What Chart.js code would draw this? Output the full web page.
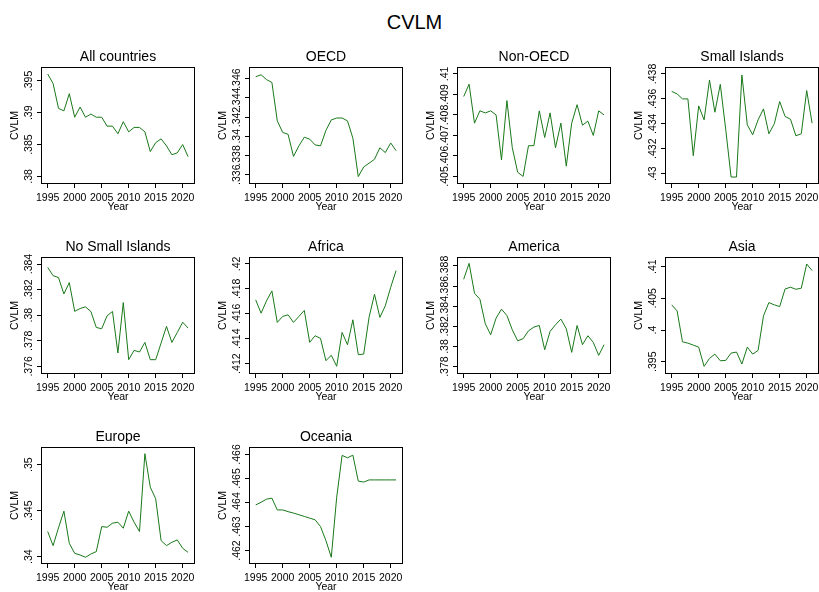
<!DOCTYPE html>
<html>
<head>
<meta charset="utf-8">
<title>CVLM</title>
<script src="https://cdn.jsdelivr.net/npm/chart.js@4.4.1/dist/chart.umd.min.js"></script>
<style>
  html, body { margin: 0; padding: 0; background: #fff; }
  body { width: 819px; height: 592px; position: relative; overflow: hidden; font-family: "Liberation Sans", Arial, sans-serif; }
  #main { position: absolute; left: 0; top: 10px; width: 829px; line-height: 24px; text-align: center; font-size: 20px; color: #000; }
  .panel { position: absolute; width: 208px; height: 192px; }
</style>
</head>
<body>
<div id="main">CVLM</div>
<div id="grid"></div>
<script>
var years = [1995, 1996, 1997, 1998, 1999, 2000, 2001, 2002, 2003, 2004, 2005, 2006, 2007, 2008,
             2009, 2010, 2011, 2012, 2013, 2014, 2015, 2016, 2017, 2018, 2019, 2020, 2021];
var yearTicks = [1995, 2000, 2005, 2010, 2015, 2020];

var allCountries = [.3961, .3946, .3907, .3903, .3930, .3893, .3909, .3893, .3898, .3893, .3893, .3879, .3879, .3867,
                    .3886, .3870, .3877, .3877, .3870, .3839, .3853, .3859, .3848, .3834, .3837, .3850, .3831];
var oecd = [.3462, .3464, .3459, .3456, .3416, .3404, .3402, .3379, .3390, .3399, .3397, .3391, .3390, .3406,
            .3417, .3419, .3419, .3416, .3398, .3358, .3368, .3372, .3376, .3388, .3383, .3393, .3385];
var nonOecd = [.4089, .4095, .4076, .4082, .4081, .4082, .4080, .4058, .4087, .4064, .4052, .4050, .4065, .4065,
               .4082, .4069, .4081, .4064, .4076, .4055, .4076, .4085, .4075, .4077, .4070, .4082, .4080];
var smallIslands = [.4366, .4364, .4360, .4360, .43144, .43544, .43432, .43752, .43493, .43717, .43357, .42973, .42973, .43792,
                    .43392, .43312, .43432, .4352, .4332, .4340, .43579, .43459, .43437, .43304, .4332, .43667, .43405];
var noSmallIslands = [.38374, .38309, .38294, .38166, .38255, .3803, .38052, .38065, .38029, .37904, .37894, .37995, .38029, .37704,
                      .38099, .37652, .37725, .37712, .37787, .37652, .37652, .37782, .37912, .37787, .37865, .37945, .37899];
var africa = [.41712, .41605, .41704, .41784, .41531, .41579, .41592, .41531, .41579, .41627, .41371, .41424, .41403, .41224,
              .41267, .41179, .41451, .41352, .41552, .41272, .41277, .41573, .41757, .41571, .41664, .41813, .41947];
var america = [.38668, .38826, .38529, .3847, .38226, .38117, .38282, .38371, .38308, .38166, .38057, .38077, .38156, .38193,
               .38209, .37968, .3815, .38216, .38272, .38176, .37942, .38209, .38018, .38107, .38041, .37912, .38018];
var asia = [.40397, .40302, .39814, .39793, .39762, .3973, .39426, .39552, .3962, .39515, .3952, .39636, .39652, .39463,
            .3973, .3962, .39678, .40223, .40433, .40397, .4037, .40648, .40675, .40643, .40659, .41042, .40937];
var europe = [.34273, .3412, .34313, .34495, .34145, .34036, .34018, .33993, .34029, .34055, .34327, .3432, .34364, .34375,
              .34309, .34495, .34375, .34273, .3512, .34756, .34629, .34175, .3412, .34156, .34182, .34091, .34047];
var oceania = [.4639, .46401, .46414, .46418, .46369, .46369, .46362, .46356, .46349, .46342, .46335, .46328, .463, .46242,
               .46172, .46422, .46596, .46586, .46597, .46489, .46485, .46494, .46494, .46494, .46494, .46494, .46494];

var panelNames = ['All countries', 'OECD', 'Non-OECD', 'Small Islands', 'No Small Islands',
                  'Africa', 'America', 'Asia', 'Europe', 'Oceania'];
var panelSeries = [allCountries, oecd, nonOecd, smallIslands, noSmallIslands,
                   africa, america, asia, europe, oceania];
var panelTicks = [
  [.38, .385, .39, .395],
  [.336, .338, .34, .342, .344, .346],
  [.405, .406, .407, .408, .409, .41],
  [.43, .432, .434, .436, .438],
  [.376, .378, .38, .382, .384],
  [.412, .414, .416, .418, .42],
  [.378, .38, .382, .384, .386, .388],
  [.395, .4, .405, .41],
  [.34, .345, .35],
  [.462, .463, .464, .465, .466]
];
var panelRanges = [
  [.3788, .3972], [.33503, .34721], [.40463, .41034], [.42917, .43856], [.3754, .38455],
  [.41117, .42056], [.37727, .38889], [.39306, .41152], [.3392, .35193], [.46144, .46631]
];

var lineColor = 'rgb(25,120,25)';
var tickFont = { family: '"Liberation Sans", Arial, sans-serif', size: 10.5 };

function fmt(v) {
  return String(v).replace(/^0\./, '.');
}

// full box around the plot region
var frame = {
  id: 'frame',
  afterDraw: function (chart) {
    var a = chart.chartArea, c = chart.ctx;
    c.save();
    c.strokeStyle = '#000';
    c.lineWidth = 1;
    c.strokeRect(Math.round(a.left) + 0.5, Math.round(a.top) + 0.5,
                 Math.round(a.right - a.left) - 1, Math.round(a.bottom - a.top) - 1);
    c.restore();
  }
};

var measure = document.createElement('canvas').getContext('2d');
measure.font = '10.5px "Liberation Sans"';

function makePanel(k) {
  var col = k % 4, row = Math.floor(k / 4);
  var div = document.createElement('div');
  div.className = 'panel';
  div.style.left = (208 * col) + 'px';
  div.style.top = (27 + 190 * row) + 'px';
  var canvas = document.createElement('canvas');
  canvas.width = 208;
  canvas.height = 192;
  div.appendChild(canvas);
  document.getElementById('grid').appendChild(div);

  var ticks = panelTicks[k];
  var widest = 0;
  ticks.forEach(function (t) { widest = Math.max(widest, measure.measureText(fmt(t)).width); });
  var vals = panelSeries[k];
  var pts = years.map(function (yr, i) { return { x: yr, y: vals[i] }; });

  new Chart(canvas, {
    type: 'line',
    data: {
      datasets: [{
        data: pts,
        borderColor: lineColor,
        borderWidth: 1,
        pointRadius: 0,
        tension: 0,
        fill: false
      }]
    },
    options: {
      responsive: false,
      animation: false,
      layout: { padding: { left: 0, top: 0, right: 13, bottom: 0 } },
      plugins: {
        legend: { display: false },
        tooltip: { enabled: false },
        title: {
          display: true,
          text: panelNames[k],
          fullSize: false,
          color: '#000',
          font: { family: '"Liberation Sans", Arial, sans-serif', size: 14, weight: 'normal' },
          padding: { top: 21.6, bottom: 1.6 }
        }
      },
      scales: {
        x: {
          type: 'linear',
          min: 1993.76,
          max: 2022.28,
          afterBuildTicks: function (sc) { sc.ticks = yearTicks.map(function (v) { return { value: v }; }); },
          afterFit: function (sc) { sc.height = 35; },
          ticks: { autoSkip: false, minRotation: 0, maxRotation: 0, padding: 3.4, color: '#000', font: tickFont,
                   callback: function (v) { return String(v); } },
          grid: { drawOnChartArea: false, drawTicks: true, tickLength: 4, color: '#000' },
          border: { display: false },
          title: { display: true, text: 'Year', color: '#000', font: tickFont, padding: { top: 0, bottom: 5.7 } }
        },
        y: {
          type: 'linear',
          min: panelRanges[k][0],
          max: panelRanges[k][1],
          afterBuildTicks: function (sc) { sc.ticks = ticks.map(function (v) { return { value: v }; }); },
          afterFit: function (sc) { sc.width = 41; },
          ticks: { autoSkip: false, minRotation: 90, maxRotation: 90, crossAlign: 'center',
                   padding: 8 - widest / 2, color: '#000', font: tickFont, callback: fmt },
          grid: { drawOnChartArea: false, drawTicks: true, tickLength: 4, color: '#000' },
          border: { display: false },
          title: { display: true, text: 'CVLM', color: '#000', font: tickFont, padding: { top: 9.2, bottom: 0 } }
        }
      }
    },
    plugins: [frame]
  });
}

for (var k = 0; k < panelNames.length; k++) {
  makePanel(k);
}
</script>
</body>
</html>
